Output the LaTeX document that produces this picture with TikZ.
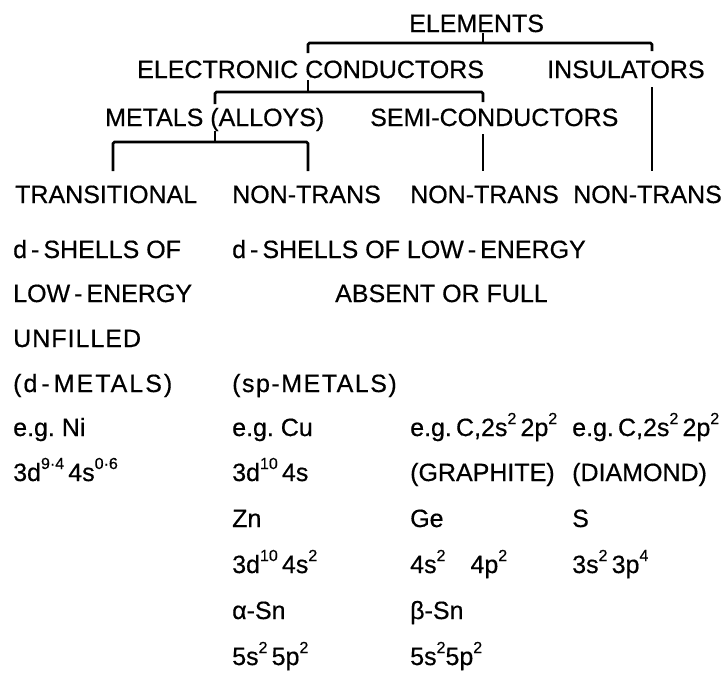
\documentclass[tikz,border=0pt]{standalone}
\usepackage{fontspec}
\setmainfont[FakeBold=0.5]{Liberation Sans}
\newcommand\fs{\fontsize{25}{30}\selectfont}
\newcommand\su[1]{\raisebox{12pt}{\fontsize{16}{16}\selectfont #1}}
\newcommand\hy{\kern4pt-\kern4pt}
\begin{document}
\begin{tikzpicture}[x=1pt,y=-1pt,
  t/.style={anchor=base west,inner sep=0pt,font=\fs},
  br/.style={line width=2.8pt,rounded corners=1.5pt,line cap=butt}]
\useasboundingbox (0,0) rectangle (727,686);
% header rows
\node[t] (elem) at (409,32) {ELEMENTS};
\node[t] (ec) at (137,78) {ELECTRONIC CONDUCTORS};
\node[t] (ins) at (547,78) {INSULATORS};
\node[t] (met) at (105,126) {METALS (ALLOYS)};
\node[t] (semi) at (370,126) {SEMI-CONDUCTORS};
\node[t] (tr) at (15,203) {TRANSITIONAL};
\node[t] (nt1) at (232,203) {NON-TRANS};
\node[t] (nt2) at (410,203) {NON-TRANS};
\node[t] (nt3) at (573,203) {NON-TRANS};
% description rows
\node[t] (ds1) at (13,258) {d\hy SHELLS OF};
\node[t] (ds2) at (232,258) {d\hy SHELLS OF LOW\hy ENERGY};
\node[t] (le) at (13,302) {LOW\hy ENERGY};
\node[t] (abs) at (335,302) {ABSENT OR FULL};
\node[t] (unf) at (13,347) {\addfontfeature{LetterSpace=4}UNFILLED};
\node[t] (dm) at (13,392) {\addfontfeature{LetterSpace=8}(d\hy METALS)};
\node[t] (spm) at (232,392) {\addfontfeature{LetterSpace=6}(sp-METALS)};
% examples
\node[t] (egni) at (13,436) {e.g.\ Ni};
\node[t] (ni) at (13,481) {3d\su{9·4}\,4s\su{0·6}};
\node[t] (egcu) at (232,436) {e.g.\ Cu};
\node[t] (cu) at (232,481) {3d\su{10}\,4s};
\node[t] (zn) at (232,527) {Zn};
\node[t] (zncfg) at (232,573) {3d\su{10}\,4s\su{2}};
\node[t] (asn) at (232,619) {α-Sn};
\node[t] (asncfg) at (232,665) {5s\su{2}\,5p\su{2}};
\node[t] (egc1) at (410,436) {e.g.\,C,2s\su{2}\,2p\su{2}};
\node[t] (gr) at (410,481) {(GRAPHITE)};
\node[t] (ge) at (410,527) {Ge};
\node[t] (gecfg) at (410,573) {4s\su{2}\quad 4p\su{2}};
\node[t] (bsn) at (410,619) {β-Sn};
\node[t] (bsncfg) at (410,665) {5s\su{2}5p\su{2}};
\node[t] (egc2) at (572,436) {e.g.\,C,2s\su{2}\,2p\su{2}};
\node[t] (dia) at (572,481) {(DIAMOND)};
\node[t] (s) at (572,527) {S};
\node[t] (scfg) at (572,573) {3s\su{2}\,3p\su{4}};
% bracket junctions and leg ends
\coordinate (j1) at (483,43);
\coordinate (l1a) at (308,53);
\coordinate (l1b) at (652,51);
\coordinate (j2) at (308,92);
\coordinate (l2a) at (215,104);
\coordinate (l2b) at (483,102);
\coordinate (j3) at (215,142);
\coordinate (l3a) at (113,171);
\coordinate (l3b) at (308,171);
\coordinate (l4) at (483,171);
\coordinate (l5) at (652,171);
% brackets
\draw[br,shorten <=1pt] (elem.south -| j1) -- (j1);
\draw[br] (l1a) |- (j1) -| (l1b);
\draw[br,shorten <=2pt] (ec.south -| j2) -- (j2);
\draw[br] (l2a) |- (j2) -| (l2b);
\draw[br] (met.south -| j3) -- (j3);
\draw[br] (l3a) |- (j3) -| (l3b);
\draw[br,shorten <=8pt] (semi.south -| l4) -- (l4);
\draw[br,shorten <=9pt] (ins.south -| l5) -- (l5);
\end{tikzpicture}
\end{document}
